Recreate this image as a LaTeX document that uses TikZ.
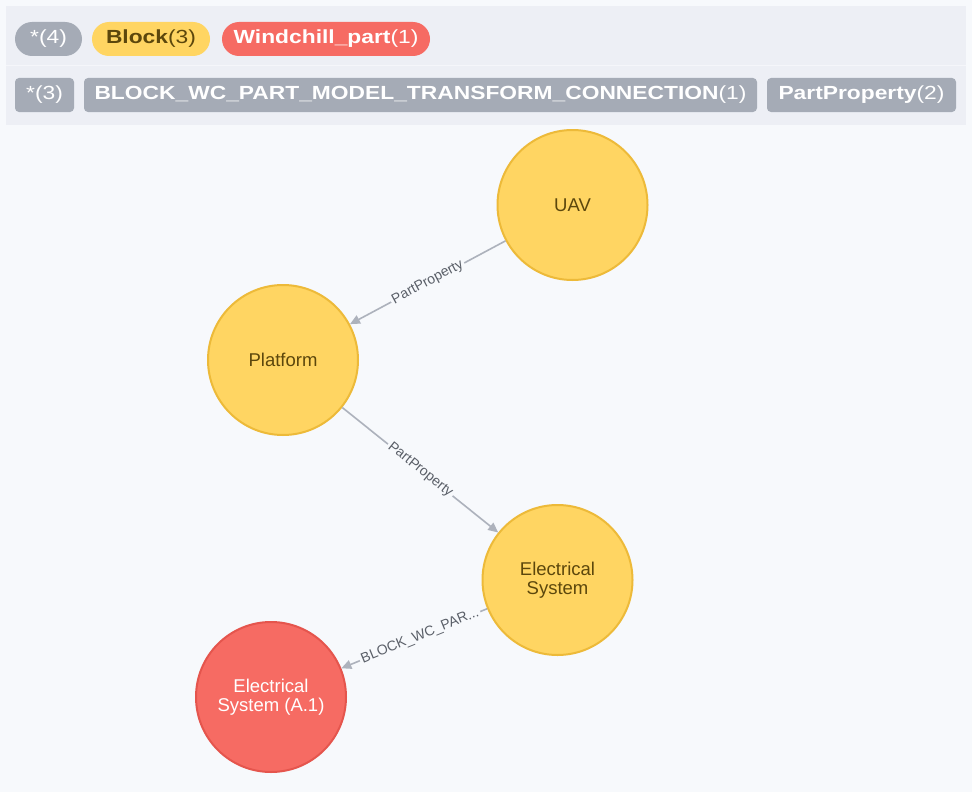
\documentclass[tikz,border=0pt]{standalone}
\usepackage{fontspec}
\setmainfont{Liberation Sans}
\newfontfamily\pillfont[FakeStretch=1.2]{Liberation Sans}
\usetikzlibrary{arrows.meta}

\definecolor{canvasbg}{HTML}{F7F9FC}
\definecolor{headerbg}{HTML}{EDEFF5}
\definecolor{headerline}{HTML}{F5F6FA}
\definecolor{greytag}{HTML}{A5ABB6}
\definecolor{blockfill}{HTML}{FFD562}
\definecolor{blockline}{HTML}{EDBA39}
\definecolor{blocktext}{HTML}{5C470C}
\definecolor{partfill}{HTML}{F66B63}
\definecolor{partline}{HTML}{E5554D}
\definecolor{relcolor}{HTML}{ADB2BC}
\definecolor{reltext}{HTML}{5A5F68}

\tikzset{
  pill/.style={rounded corners=17pt, minimum height=34pt, inner sep=0pt,
    text=white, font=\pillfont\fontsize{19}{21}\selectfont},
  tagbox/.style={fill=greytag, rounded corners=4pt, minimum height=34pt,
    inner sep=0pt, text=white, font=\pillfont\fontsize{19}{21}\selectfont},
  blocknode/.style={circle, minimum size=150pt, inner sep=0pt, fill=blockfill,
    draw=blockline, line width=2pt, text=blocktext, align=center,
    font=\fontsize{18.5}{19.5}\selectfont},
  partnode/.style={blocknode, fill=partfill, draw=partline, text=white},
  rel/.style={draw=relcolor, line width=1.6pt,
    -{Triangle[length=10pt,width=9pt]}},
  rellabel/.style={sloped, fill=canvasbg, inner sep=2pt, text=reltext,
    font=\fontsize{14}{15}\selectfont}
}

\begin{document}
\begin{tikzpicture}[x=1pt, y=-1pt]
  \useasboundingbox (0,0) rectangle (972,792);
  \fill[canvasbg] (0,0) rectangle (972,792);

  % legend header
  \fill[headerbg] (6,6) rectangle (966,125);
  \draw[headerline, line width=1pt] (6,66) -- (966,66);

  % node labels row
  \node[pill, fill=greytag, minimum width=67pt] (tagall) at (48.5,39) {*(4)};
  \node[pill, fill=blockfill, text=blocktext, minimum width=118pt] (tagblock) at (151,39) {\textbf{Block}(3)};
  \node[pill, fill=partfill, minimum width=208pt] (tagpart) at (326,39) {\textbf{Windchill\_part}(1)};

  % relationship types row
  \node[tagbox, minimum width=59pt] (relall) at (44.5,95) {*(3)};
  \node[tagbox, minimum width=673pt] (relconn) at (420.5,95) {\textbf{BLOCK\_WC\_PART\_MODEL\_TRANSFORM\_CONNECTION}(1)};
  \node[tagbox, minimum width=189pt] (relprop) at (861.5,95) {\textbf{PartProperty}(2)};

  % graph nodes
  \node[blocknode] (uav) at (572.5,205) {UAV};
  \node[blocknode] (platform) at (283,360) {Platform};
  \node[blocknode] (elec) at (557.5,580) {Electrical\\System};
  \node[partnode] (elecpart) at (271,697) {Electrical\\System (A.1)};

  % relationships
  \draw[rel] (uav) -- node[rellabel] {PartProperty} (platform);
  \draw[rel] (platform) -- node[rellabel] {PartProperty} (elec);
  \draw[rel] (elec) -- node[rellabel, pos=0.46] {BLOCK\_WC\_PAR...} (elecpart);
\end{tikzpicture}
\end{document}
